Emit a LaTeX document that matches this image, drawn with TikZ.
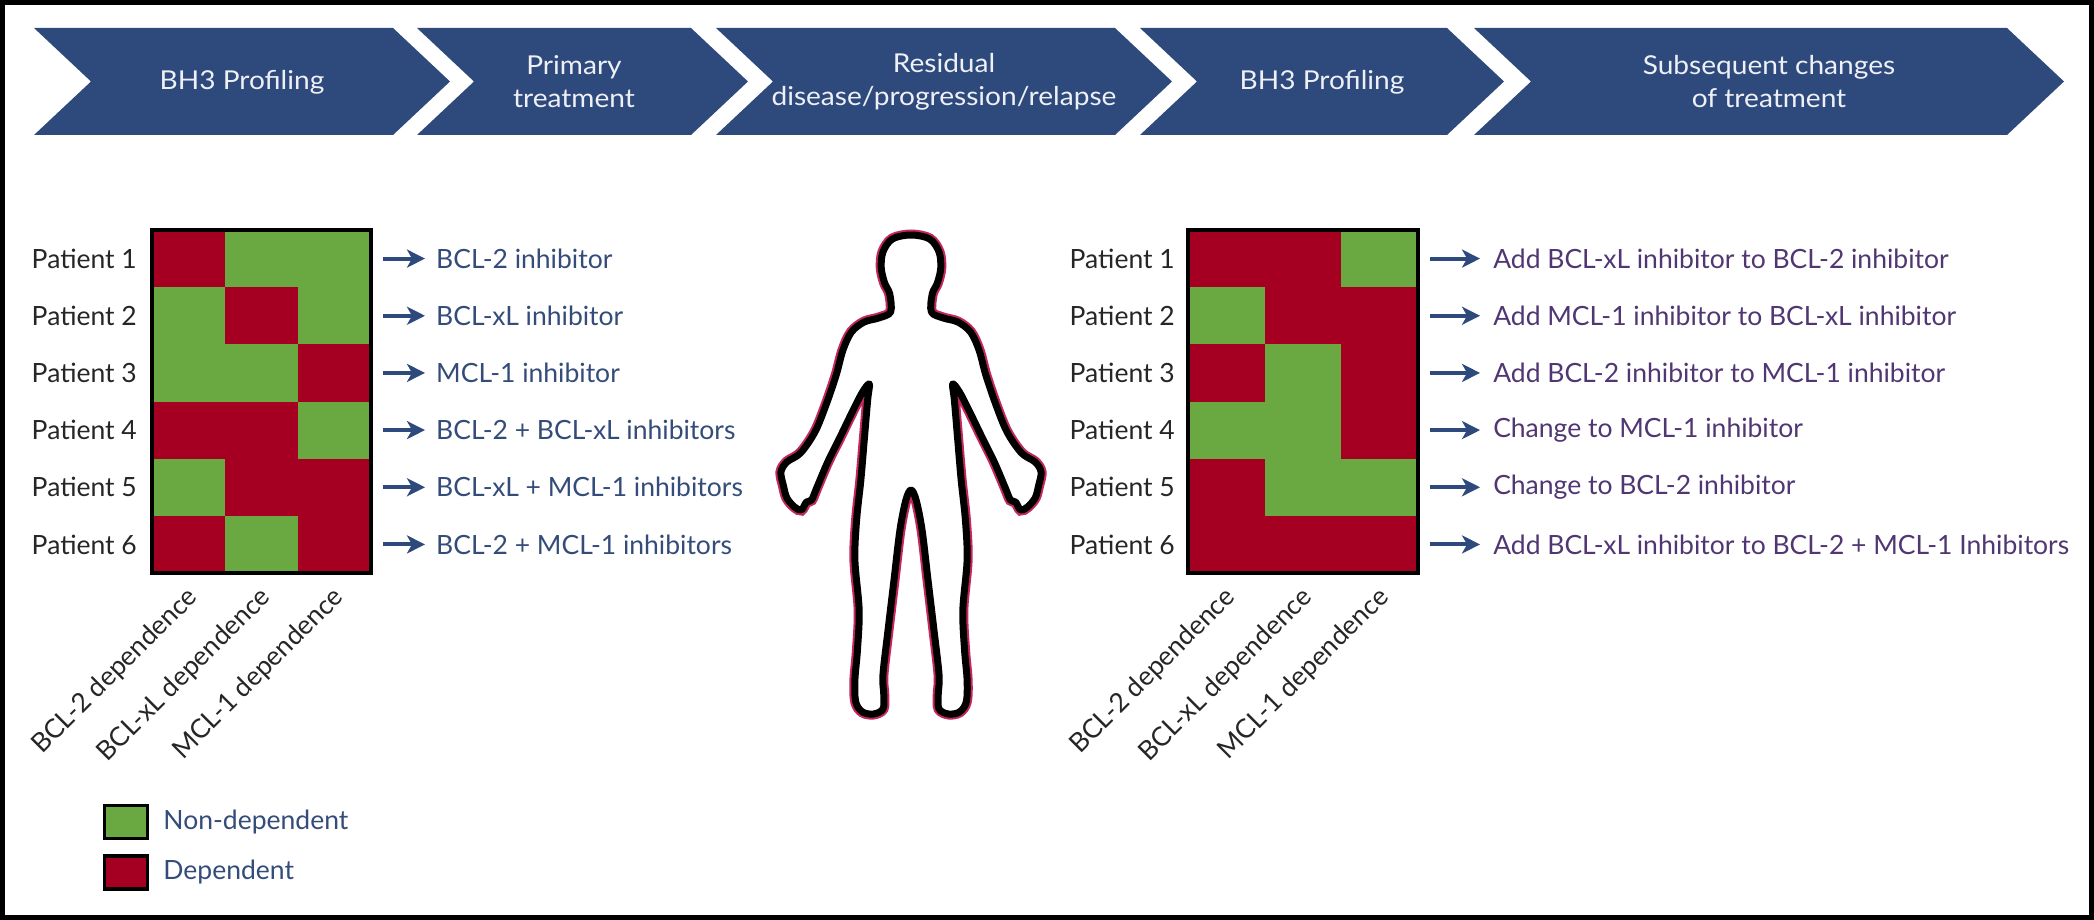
\documentclass[tikz,border=0pt]{standalone}
\usepackage{fontspec}
\setmainfont{Lato}
\newfontfamily\bandfont{Lato}[FakeStretch=1.08]
\usepackage{xcolor}
\usepackage{tikz}
\usetikzlibrary{positioning,arrows.meta}

\definecolor{band}{RGB}{46,74,125}
\definecolor{dep}{RGB}{165,0,33}
\definecolor{non}{RGB}{106,168,66}
\definecolor{slate}{RGB}{52,76,122}
\definecolor{plum}{RGB}{80,54,114}
\definecolor{rim}{RGB}{196,40,92}

\newcommand{\labelsize}{\fontsize{26.5}{32}\selectfont}
\newcommand{\bandsize}{\bandfont\fontsize{26}{33}\selectfont}

\begin{document}
\begin{tikzpicture}[x=1pt, y=-1pt, >={Stealth[length=18pt,width=18pt,inset=5pt]},
  every node/.style={font=\labelsize, inner sep=0pt},
  phase/.style={fill=band},
  phasetext/.style={font=\bandsize, text=white!92!band, align=center},
  cell/.style={minimum width=#1, minimum height=57.17pt, outer sep=0pt},
  patient/.style={text=black!85},
  drug/.style={text=slate},
  change/.style={text=plum},
  flow/.style={->, line width=4pt, draw=band},
  dependence/.style={rotate=45, anchor=east, text=black!85},
  legbox/.style={draw=black, line width=3.5pt, minimum width=43pt, minimum height=33pt},
  legtext/.style={text=slate}]

  \useasboundingbox (0,0) rectangle (2094,920);
  \draw[line width=5pt] (2.5,2.5) rectangle (2091.5,917.5);

  % timeline chevrons
  \foreach \xl/\xr in {34/393, 417/691, 716/1115, 1140/1447, 1474/2007}
    \fill[phase] (\xl,28) -- (\xr,28) -- (\xr+57,81.5) -- (\xr,135) -- (\xl,135) -- (\xl+57,81.5) -- cycle;

  \node[phasetext] (ph1) at (242,82) {BH3 Profiling};
  \node[phasetext] (ph2) at (574,82) {Primary\\treatment};
  \node[phasetext] (ph3) at (944,82) {Residual\\disease/progression/relapse};
  \node[phasetext] (ph4) at (1322,82) {BH3 Profiling};
  \node[phasetext] (ph5) at (1769,82) {Subsequent changes\\of treatment};

  % first profile
  \foreach \r/\a/\b/\c/\txt in {1/dep/non/non/BCL-2 inhibitor,
      2/non/dep/non/BCL-xL inhibitor, 3/non/non/dep/MCL-1 inhibitor,
      4/dep/dep/non/BCL-2 + BCL-xL inhibitors, 5/non/dep/dep/BCL-xL + MCL-1 inhibitors,
      6/dep/non/dep/BCL-2 + MCL-1 inhibitors} {
    \pgfmathsetmacro{\yy}{230+(\r-0.5)*57.17}
    \node[cell=73pt, fill=\a] (Lc\r1) at (188.5,\yy) {};
    \node[cell=73pt, fill=\b] (Lc\r2) at (261.5,\yy) {};
    \node[cell=73pt, fill=\c] (Lc\r3) at (334.5,\yy) {};
    \node[patient, left=15pt of Lc\r1] (Lp\r) {Patient \r};
    \node[drug, right=65pt of Lc\r3] (Ld\r) {\txt};
    \draw[flow] ([xshift=12pt]Lc\r3.east) -- ([xshift=-11pt]Ld\r.west);
  }
  \draw[line width=3.5pt] (Lc11.north west) rectangle (Lc63.south east);
  \node[dependence] (Lk1) at ([xshift=5pt,yshift=-20pt]Lc61.south) {BCL-2 dependence};
  \node[dependence] (Lk2) at ([xshift=5pt,yshift=-20pt]Lc62.south) {BCL-xL dependence};
  \node[dependence] (Lk3) at ([xshift=5pt,yshift=-20pt]Lc63.south) {MCL-1 dependence};

  % second profile
  \foreach \r/\a/\b/\c/\txt in {1/dep/dep/non/Add BCL-xL inhibitor to BCL-2 inhibitor,
      2/non/dep/dep/Add MCL-1 inhibitor to BCL-xL inhibitor,
      3/dep/non/dep/Add BCL-2 inhibitor to MCL-1 inhibitor,
      4/non/non/dep/Change to MCL-1 inhibitor, 5/dep/non/non/Change to BCL-2 inhibitor,
      6/dep/dep/dep/Add BCL-xL inhibitor to BCL-2 + MCL-1 Inhibitors} {
    \pgfmathsetmacro{\yy}{230+(\r-0.5)*57.17}
    \node[cell=76.67pt, fill=\a] (Rc\r1) at (1226.3,\yy) {};
    \node[cell=76.67pt, fill=\b] (Rc\r2) at (1303,\yy) {};
    \node[cell=76.67pt, fill=\c] (Rc\r3) at (1379.7,\yy) {};
    \node[patient, left=13pt of Rc\r1] (Rp\r) {Patient \r};
    \node[change, right=75pt of Rc\r3] (Rd\r) {\txt};
    \draw[flow] ([xshift=12pt]Rc\r3.east) -- ([xshift=-13pt]Rd\r.west);
  }
  \draw[line width=3.5pt] (Rc11.north west) rectangle (Rc63.south east);
  \node[dependence] (Rk1) at ([xshift=5pt,yshift=-20pt]Rc61.south) {BCL-2 dependence};
  \node[dependence] (Rk2) at ([xshift=5pt,yshift=-20pt]Rc62.south) {BCL-xL dependence};
  \node[dependence] (Rk3) at ([xshift=5pt,yshift=-20pt]Rc63.south) {MCL-1 dependence};

  % body outline
  \begin{scope}[shift={(911,0)}, xscale=0.85]
    \path[preaction={draw=rim, line width=11pt}, fill=white, draw=black, line width=7pt, line join=round]
      plot[smooth cycle, tension=0.55] coordinates {
        (0,235) (-22,239) (-33,252) (-35,268) (-31,283) (-25,294) (-24,312) (-38,318)
        (-55,322) (-70,332) (-80,350) (-88,375) (-100,405) (-113,432) (-130,453)
        (-146,462) (-153,472) (-150,486) (-146,498) (-137,507) (-129,510) (-123,502)
        (-117,500) (-111,488) (-98,462) (-84,438) (-68,410) (-57,392) (-49,384)
        (-51,400) (-55,440) (-59,480) (-64,520) (-66,560) (-61,610) (-63,650)
        (-66,680) (-65,702) (-57,712) (-44,714) (-33,709) (-32,695) (-33,675)
        (-27,630) (-20,580) (-13,530) (-6,500) (0,490)
        (6,500) (13,530) (20,580) (27,630) (33,675) (32,695) (33,709) (44,714)
        (57,712) (65,702) (66,680) (63,650) (61,610) (66,560) (64,520) (59,480)
        (55,440) (51,400) (49,384) (57,392) (68,410) (84,438) (98,462) (111,488)
        (117,500) (123,502) (129,510) (137,507) (146,498) (150,486) (153,472)
        (146,462) (130,453) (113,432) (100,405) (88,375) (80,350) (70,332)
        (55,322) (38,318) (24,312) (25,294) (31,283) (35,268) (33,252) (22,239)};
  \end{scope}

  % legend
  \node[legbox, fill=non] (Kn) at (126,822) {};
  \node[legbox, fill=dep, below=14pt of Kn] (Kd) {};
  \node[legtext, right=14pt of Kn] (Kt1) {Non-dependent};
  \node[legtext, right=14pt of Kd] (Kt2) {Dependent};
\end{tikzpicture}
\end{document}
